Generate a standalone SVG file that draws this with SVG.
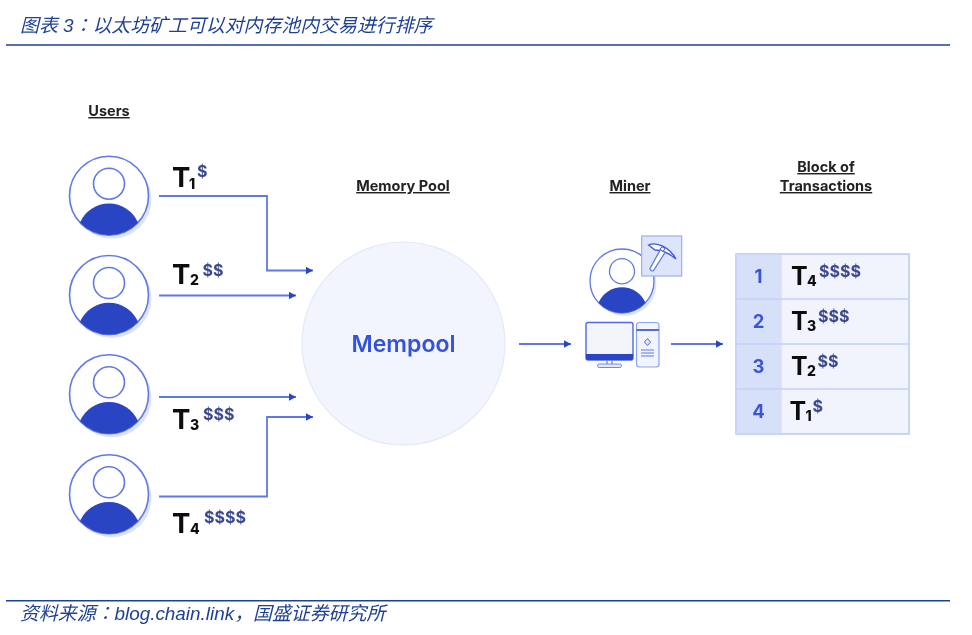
<svg xmlns="http://www.w3.org/2000/svg" width="972" height="635" viewBox="0 0 972 635">
<style>
text{font-family:"Inter","Liberation Sans","Noto Sans CJK SC",sans-serif}
.cap{font-family:"Liberation Sans","Noto Sans CJK SC",sans-serif;font-style:italic;font-size:18.9px;fill:#1f4093}
.cn{font-family:"Noto Sans CJK TC",sans-serif}
.rule{stroke:#1f4093;stroke-width:1.4;fill:none}
.hd{font-size:14.5px;font-weight:700;fill:#222;text-anchor:middle;text-decoration:underline}
.t{font-size:27.5px;font-weight:700;fill:#111}
.ts{font-size:25px;font-weight:700;fill:#111}
.sub{font-size:14px;font-weight:800;fill:#111}
.usd{font-size:16px;font-weight:700;fill:#3c4a8e}
.num{font-size:18.5px;font-weight:700;fill:#3a54d6;text-anchor:middle}
.wire{fill:none;stroke:#5f79e4;stroke-width:1.8}
.ln{fill:none;stroke:#6f88ea;stroke-width:1.4}
.cell{fill:#f1f4fd;stroke:#c4d1f8;stroke-width:1.4}
.idx{fill:#d6e0f8}
.dark{fill:#2b44c4}
</style>
<defs>
<filter id="soft" x="0" y="0" width="100%" height="100%"><feGaussianBlur stdDeviation="0.45"/></filter>
<marker id="ah" markerUnits="userSpaceOnUse" markerWidth="8" markerHeight="8" refX="7" refY="4" orient="auto"><path d="M0,0.3L7,4L0,7.7Z" fill="#2b44c4"/></marker>
<g id="person">
<circle cx="3" cy="3.5" r="39.5" fill="#dde4f9"/>
<circle r="39.5" fill="#fff" stroke="#6079e6" stroke-width="1.6"/>
<circle cy="-12" r="15.5" fill="#fff" stroke="#6079e6" stroke-width="1.6"/>
<path class="dark" d="M-29,26.8A31.6,31.6 0 0 1 29,26.8A39.5,39.5 0 0 1 -29,26.8Z"/>
</g>
</defs>
<rect width="972" height="635" fill="#fff"/>
<g filter="url(#soft)">
<g id="header">
<text class="cap" x="20" y="32">图表 3<tspan class="cn">：</tspan>以太坊矿工可以对内存池内交易进行排序</text>
<line class="rule" x1="6" y1="45" x2="950" y2="45"/>
</g>
<g id="footer">
<line class="rule" x1="6" y1="600.7" x2="950" y2="600.7"/>
<text class="cap" x="20" y="620">资料来源<tspan class="cn">：</tspan>blog.chain.link<tspan>，</tspan>国盛证券研究所</text>
</g>

<g id="headings">
<text class="hd" x="109" y="116">Users</text>
<text class="hd" x="403" y="191">Memory Pool</text>
<text class="hd" x="630" y="191">Miner</text>
<text class="hd" x="826" y="172">Block of</text>
<text class="hd" x="826" y="191">Transactions</text>
</g>

<g id="connectors">
<path class="wire" marker-end="url(#ah)" d="M159,196H267V270.5H313"/>
<path class="wire" marker-end="url(#ah)" d="M159,295.5H296"/>
<path class="wire" marker-end="url(#ah)" d="M159,397H296"/>
<path class="wire" marker-end="url(#ah)" d="M159,496.5H267V417H313"/>
<path class="wire" marker-end="url(#ah)" d="M519,344H571"/>
<path class="wire" marker-end="url(#ah)" d="M671,344H723"/>
</g>

<g id="user1"><use href="#person" x="109" y="195.7"/>
<text class="t" x="172" y="187">T</text><text class="sub" x="189" y="189">1</text><text class="usd" x="197" y="177">$</text></g>
<g id="user2"><use href="#person" x="109" y="295"/>
<text class="t" x="172" y="284">T</text><text class="sub" x="190" y="285">2</text><text class="usd" x="202.5" y="276">$$</text></g>
<g id="user3"><use href="#person" x="109" y="394.3"/>
<text class="t" x="172" y="429">T</text><text class="sub" x="190" y="430">3</text><text class="usd" x="203" y="420">$$$</text></g>
<g id="user4"><use href="#person" x="109" y="494.3"/>
<text class="t" x="172" y="533">T</text><text class="sub" x="190" y="534">4</text><text class="usd" x="204" y="523">$$$$</text></g>

<g id="mempool">
<circle cx="403.5" cy="343.5" r="101.5" fill="#f2f5fd" stroke="#e4e9fb" stroke-width="1.2"/>
<text x="403.5" y="351.5" font-size="23" font-weight="600" fill="#3653da" text-anchor="middle">Mempool</text>
</g>

<g id="miner">
<use href="#person" transform="translate(622,281) scale(.81)"/>
<rect x="641.7" y="236" width="40" height="40" fill="#dde5fa" stroke="#9db0f0" stroke-width="1.2"/>
<path d="M648.5,245C657,241 670,248 676,259C669,253 661,250 655,250Z" fill="#fff" stroke="#3f57d2" stroke-width="1.3"/>
<path d="M660.5,249.5L665,252.5L653.5,270.5C652,271.5 650,270 650,268.5Z" fill="#fff" stroke="#5f79e4" stroke-width="1.3"/>
<circle cx="662.5" cy="249" r="2" fill="#fff" stroke="#3f57d2"/>
<g id="computer">
<rect x="586" y="322.5" width="47" height="37.5" rx="2" fill="#f4f5fb" stroke="#4f6ade" stroke-width="1.4"/>
<path class="dark" d="M586,354H633V358A2,2 0 0 1 631,360H588A2,2 0 0 1 586,358Z"/>
<path class="ln" d="M607,360V366M612,360V366"/>
<rect x="597.5" y="364" width="24" height="3.5" rx="1.7" fill="#e6ebfb" stroke="#6f88ea" stroke-width="1"/>
<rect x="636.5" y="322.5" width="22.5" height="44.5" rx="3" fill="#f1f4fd" stroke="#8ea3ee" stroke-width="1.2"/>
<path d="M636.5,330H659" stroke="#4f6ade" stroke-width="2"/>
<path d="M647.5,338.5L650.5,342L647.5,345.5L644.5,342Z" fill="#e6ebfb" stroke="#4f6ade"/>
<path d="M641,350H654M641,353H654M641,356H654" stroke="#8ea3ee" stroke-width="1.4"/>
</g>
</g>

<g id="block">
<rect class="cell" x="736" y="254" width="173" height="180"/>
<rect class="idx" x="736.7" y="254.7" width="45" height="178.6"/>
<path d="M736,299H909M736,344H909M736,389H909" stroke="#c4d1f8" stroke-width="1.4"/>
<rect x="736" y="254" width="173" height="180" fill="none" stroke="#c4d1f8" stroke-width="1.4"/>
<g id="row1"><text class="num" x="758.5" y="282.5">1</text><text class="ts" x="791" y="285">T</text><text class="sub" x="807" y="286">4</text><text class="usd" x="819" y="277">$$$$</text></g>
<g id="row2"><text class="num" x="758.5" y="327.5">2</text><text class="ts" x="791" y="330">T</text><text class="sub" x="807" y="331">3</text><text class="usd" x="818" y="322">$$$</text></g>
<g id="row3"><text class="num" x="758.5" y="372.5">3</text><text class="ts" x="791" y="375">T</text><text class="sub" x="807" y="376">2</text><text class="usd" x="817.5" y="367">$$</text></g>
<g id="row4"><text class="num" x="758.5" y="417.5">4</text><text class="ts" x="789.5" y="420">T</text><text class="sub" x="805.5" y="421">1</text><text class="usd" x="812.5" y="412">$</text></g>
</g>
</g>
</svg>
